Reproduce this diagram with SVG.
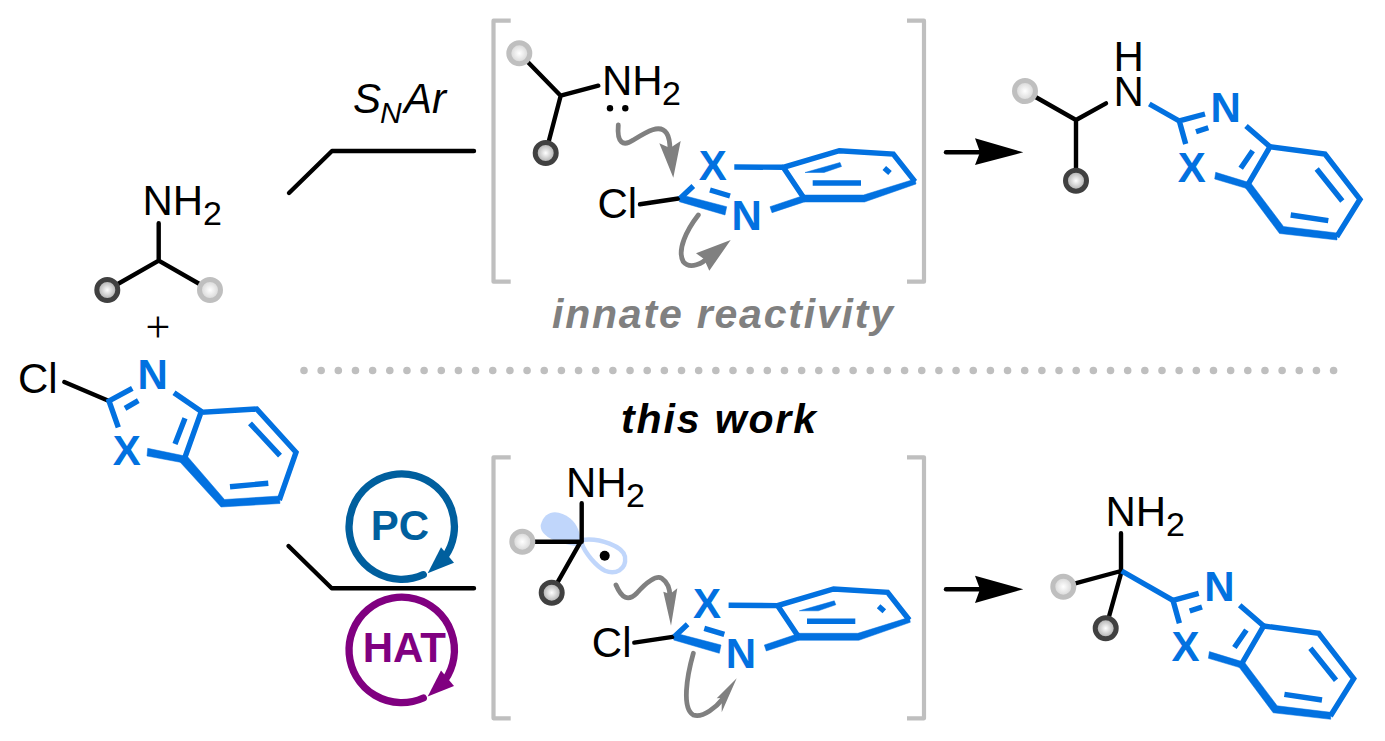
<svg xmlns="http://www.w3.org/2000/svg" xmlns:xlink="http://www.w3.org/1999/xlink" width="1385" height="741" viewBox="0 0 1385 741">
<style>
text{font-family:"Liberation Sans",Arial,sans-serif;font-size:42px}
.k{fill:#000}
.s{font-size:34px}
.blue{fill:#0271e0;font-weight:bold;text-anchor:middle;font-size:42px}
.bl{stroke:#0271e0;stroke-width:5.4;fill:none;stroke-linejoin:miter}
.bf{fill:#0271e0;stroke:#0271e0;stroke-width:.5}
.bond{stroke:#000;stroke-width:4.4;fill:none;stroke-linecap:round;stroke-linejoin:round}
.brk{stroke:#bfbfbf;stroke-width:4.2;fill:none;stroke-linejoin:round}
.curl{stroke:#808080;stroke-width:4.8;fill:none;stroke-linecap:round}
.head{fill:#808080}
.lt{fill:url(#gl);stroke:#bfbfbf;stroke-width:5}
.dk{fill:url(#gd);stroke:#404040;stroke-width:5}
.lab{font-weight:bold;font-style:italic;font-size:41px}
</style>
<defs>
<radialGradient id="gl" cx=".5" cy=".5" r=".6"><stop offset="0" stop-color="#fff"/><stop offset="1" stop-color="#c8c8c8"/></radialGradient>
<radialGradient id="gd" cx=".5" cy=".5" r=".6"><stop offset="0" stop-color="#fff"/><stop offset="1" stop-color="#909090"/></radialGradient>
<g id="flat">
<path class="bond" d="M640,204.3L680,198.3" />
<text x="597.5" y="218.3" class="k">Cl</text>
<text x="712.7" y="180" class="blue">X</text>
<text x="746.7" y="230" class="blue">N</text>
<path class="bl" d="M680,198.5L693.3,186M710,190L730,196M734.3,167L783.3,167.3" />
<path class="bf" d="M681.7,195L726.7,206.7L725,215L679.3,201.7ZM770,206.7L805,195L805,201.7L772,212.7Z"/>
<path class="bl" d="M804,198.3L783.3,167.3L839.3,150.7L893.3,154L915,181.7" />
<path class="bf" d="M804,195H863.5L915,179L916,184L864.5,202H804Z"/>
<path class="bl" d="M812.7,183H861M884.3,168L890,173" />
<path class="bf" d="M805,172.5L840,162.5L841.5,166.5L824,172.5Z"/>
</g>
<g id="pr">
<text x="1225.7" y="121.7" class="blue">N</text>
<text x="1191.7" y="181.7" class="blue">X</text>
<path class="bl" d="M1205,114L1179.3,121L1185.7,144M1196,131.7L1208.3,127.7M1246,126L1270,146.7M1252.7,150.7L1240.7,168.3M1316.7,169L1342.3,201M1290.7,215L1328.3,220.7" />
<path class="bl" d="M1247.3,185.7L1270,146.7L1325,154L1360,199.3L1336.7,236.7" />
<path class="bf" d="M1215.7,172.3L1248.3,182.3L1246,188.3L1214.7,179ZM1250,182L1283.5,226.5L1337,233L1337,240L1279.5,233.5L1245.5,188Z"/>
</g>
</defs>

<g id="connectors">
<path class="bond" stroke-linecap="butt" d="M289,193L332,151H474"/>
<path class="bond" stroke-linecap="butt" d="M288.5,546L331.7,588.3H474"/>
<path d="M304,370.5H1338" stroke="#bfbfbf" stroke-width="7.6" stroke-linecap="round" stroke-dasharray="0 17.16" fill="none"/>
<path class="bond" stroke-linecap="butt" d="M946,152.3H980"/>
<path d="M975,138.3L1023.3,152.3L975,165L980,152.3Z"/>
<path class="bond" stroke-linecap="butt" d="M946,589.3H980"/>
<path d="M975,575.7L1023.3,589.3L975,603L980,589.3Z"/>
</g>

<g id="amine">
<path class="bond" d="M158.7,223.3V260.7L107.3,290M158.7,260.7L210,290"/>
<circle class="dk" cx="107.3" cy="290" r="10.5"/><circle class="lt" cx="210" cy="290" r="10.5"/>
<text x="142.5" y="215" class="k">NH</text><text x="203" y="225" class="k s">2</text>
</g>
<text id="plus" x="158" y="342" text-anchor="middle" class="k" style="font-family:'Liberation Serif',serif;font-size:44px">+</text>
<g id="chloroazole">
<text x="18" y="392.7" class="k">Cl</text>
<path class="bond" d="M64.3,382L109,401"/>
<text x="152.7" y="389.3" class="blue">N</text>
<text x="126.7" y="465" class="blue">X</text>
<path class="bl" d="M132.3,388.3L109,401L118.3,427.3M125,408.3L138.3,400.7M174,392.7L201.7,411.7M185,418.3L175,444M250,423.3L280,455.7M230,486.7L268.3,483.3"/>
<path class="bl" d="M184,460L201,412.3L256.7,409L296,452.3L279.3,500"/>
<path class="bf" d="M147.7,448.3L185,456L184,463L147,456ZM187,456L224.5,499.5L279.5,496L280,503.5L221,507L180,462Z"/>
</g>

<g id="snar-label"><text x="353" y="113.3" class="k" font-style="italic">S<tspan x="380" y="123.3" style="font-size:30px">N</tspan><tspan x="404" y="113.3">Ar</tspan></text></g>

<g id="intermediate-top">
<path class="brk" d="M510.7,20.7H493.5V281.7H510.7M907,20.7H924V281.7H907"/>
<path class="bond" d="M598.3,85.7L560.7,95.7L519.3,53.3M560.7,95.7L545.7,153"/>
<circle class="lt" cx="519.3" cy="53.3" r="10.5"/><circle class="dk" cx="545.7" cy="153" r="10.5"/>
<text x="602" y="95" class="k">NH</text><text x="662" y="105" class="k s">2</text>
<circle cx="610" cy="108.3" r="3.2"/><circle cx="625.3" cy="108.3" r="3.2"/>
<path class="curl" d="M618.3,125C616.7,143.3 623.3,146.7 633.3,140C646.7,131.7 660,123.3 666.7,133.3C670,138.3 670,146.7 670,150"/>
<path class="head" d="M659.3,143.3L670,148L680.7,141L673.3,177.7Z"/>
<use xlink:href="#flat" href="#flat"/>
<path class="curl" d="M698.3,215C686.7,230 676.7,250 683.3,261.7C690,270 703.3,263.3 708.3,256.7"/>
<path class="head" d="M730.7,240L696,253.3L704,259L709.3,270.7Z"/>
</g>
<text id="innate" x="552" y="327.7" class="lab" fill="#808080" textLength="341" lengthAdjust="spacing">innate reactivity</text>
<text id="this-work" x="621" y="433.3" class="lab" fill="#000" textLength="195" lengthAdjust="spacing">this work</text>

<g id="product-top">
<path class="bond" d="M1106,103.3L1076,120L1025,91M1076,120V180"/>
<circle class="lt" cx="1025" cy="91" r="10.5"/><circle class="dk" cx="1076" cy="180.7" r="10.5"/>
<text x="1128.7" y="70.7" text-anchor="middle" class="k">H</text>
<text x="1128.7" y="106" text-anchor="middle" class="k">N</text>
<path class="bl" d="M1149.3,104L1179.3,121"/>
<use xlink:href="#pr" href="#pr"/>
</g>

<g id="pc-cycle">
<path d="M423.3,574.7A52.7,52.7 0 1 1 445,556.7" fill="none" stroke="#005f9e" stroke-width="7.3" stroke-linecap="round"/>
<path d="M427.7,573.3L441,547.3L454,562.7Z" fill="#005f9e"/>
<text x="400" y="540" text-anchor="middle" fill="#005f9e" font-weight="bold">PC</text>
</g>
<g id="hat-cycle">
<path d="M423.3,698A52.7,52.7 0 1 1 445,680" fill="none" stroke="#800080" stroke-width="7.3" stroke-linecap="round"/>
<path d="M427.7,696.6L441,670.6L454,686Z" fill="#800080"/>
<text x="404.3" y="661.7" text-anchor="middle" fill="#800080" font-weight="bold">HAT</text>
</g>

<g id="intermediate-bottom">
<path class="brk" d="M510.7,457.3H493.5V718.3H510.7M907,457.3H924V718.3H907"/>
<path d="M580.7,541.7C580,533 578,525 570,518.3C560,510 545,508.3 540.7,525C540,535 553,543.3 580.7,546.7Z" fill="#c0d6fb"/>
<path d="M581.7,540C600,537.3 623.3,546.7 625,556.7C626.7,570 615,575 605,570.7C596.7,566.7 585,553.3 581.7,543.3" fill="none" stroke="#c0d6fb" stroke-width="4.4"/>
<path class="bond" d="M581.7,503.3V541.7H522.3M580.7,541.7L551.7,592.7"/>
<circle class="lt" cx="522.3" cy="541.7" r="10.5"/><circle class="dk" cx="551.7" cy="592.7" r="10.5"/>
<circle cx="604.7" cy="555.7" r="5"/>
<text x="566" y="496.7" class="k">NH</text><text x="626" y="506.7" class="k s">2</text>
<path class="curl" d="M616,585C621.7,598.3 628.3,601.7 636.7,593.3C646.7,581.7 656.7,575 661.7,578.3C666.7,581.7 670,586.7 670,596.7"/>
<path class="head" d="M663.3,591.7L670,594L677.3,588.3L671,625.7Z"/>
<use xlink:href="#flat" href="#flat" transform="translate(-5.7,438.3)"/>
<path class="curl" d="M693.3,653.3C686.7,676.7 681.7,708.3 693.3,715C703.3,718.3 716.7,706.7 723.3,698.3"/>
<path class="head" d="M736.7,678.3L716.7,698.3L721.7,698L721.7,712.3Z"/>
</g>

<g id="product-bottom">
<path class="bond" d="M1121,533.3V571L1063.3,586.7M1121.7,571L1105.7,628.3"/>
<circle class="lt" cx="1063.3" cy="586.7" r="10.5"/><circle class="dk" cx="1105.7" cy="628.3" r="10.5"/>
<text x="1105.5" y="526" class="k">NH</text><text x="1166" y="535.7" class="k s">2</text>
<path class="bl" d="M1121.7,571L1173,600.3"/>
<use xlink:href="#pr" href="#pr" transform="translate(-6.3,479.3)"/>
</g>
</svg>
